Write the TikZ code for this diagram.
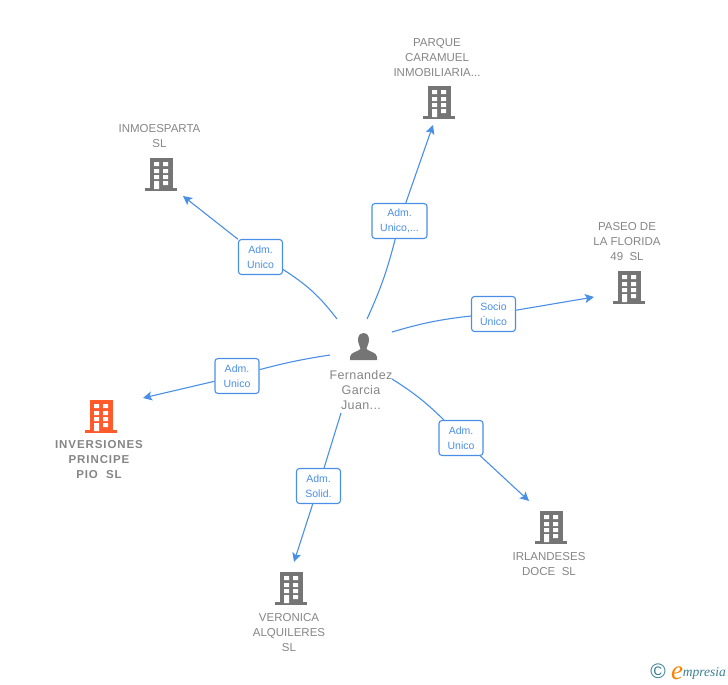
\documentclass[tikz,border=0pt]{standalone}
\usepackage{fontspec}
\setmainfont{Liberation Sans}
\newfontfamily\logofont{Liberation Serif}
\usetikzlibrary{arrows.meta, positioning}
\definecolor{linkblue}{HTML}{4A8FE6}
\definecolor{txtgray}{HTML}{858585}
\definecolor{icongray}{HTML}{757575}
\definecolor{mainorange}{HTML}{FF5A2B}
\definecolor{logoteal}{HTML}{3A7F94}
\tikzset{
  pics/building/.style={code={
    \fill[#1] (-11.5,-32) rectangle (11.5,-1);
    \fill[#1] (-16,-2) rectangle (16,1);
    \fill[white] (-7,-28) rectangle (-2,-24) (2,-28) rectangle (7,-24)
                 (-7,-21) rectangle (-2,-17) (2,-21) rectangle (7,-17)
                 (-7,-15) rectangle (-2,-11) (2,-15) rectangle (7,-11)
                 (-7,-9) rectangle (-2,-1) (2,-9) rectangle (7,-5);
  }},
  pics/person/.style={code={
    \fill[icongray] (0,-27) .. controls (-6,-27) and (-6,-20) .. (-5,-17)
      .. controls (-4.5,-14) and (-3,-13) .. (-3,-11)
      .. controls (-6,-8) and (-13,-8) .. (-13.5,-3) -- (-13.5,0) -- (13.5,0) -- (13.5,-3)
      .. controls (13,-8) and (6,-8) .. (3,-11)
      .. controls (3,-13) and (4.5,-14) .. (5,-17)
      .. controls (6,-20) and (6,-27) .. (0,-27) -- cycle;
  }}
}
\begin{document}
\begin{tikzpicture}[x=1pt,y=-1pt,
    cname/.style={text=txtgray,align=center,font=\fontsize{11.5}{15}\selectfont,inner sep=0pt},
    lab/.style={draw=linkblue,line width=1.1pt,rounded corners=3pt,fill=white,text=linkblue,
      align=center,font=\fontsize{10.5}{15}\selectfont,minimum width=44pt,minimum height=35pt,inner sep=0pt},
    link/.style={color=linkblue,line width=1.1pt},
    tip/.style={-{Stealth[length=9pt,width=9pt,inset=2pt,color=linkblue,fill=linkblue]}}]
  \useasboundingbox (0,0) rectangle (728,685);
  % companies
  \pic at (439,118) {building=icongray};
  \pic at (161,190) {building=icongray};
  \pic at (629,303) {building=icongray};
  \pic at (101,432) {building=mainorange};
  \pic at (551,543) {building=icongray};
  \pic at (291,604) {building=icongray};
  \pic at (363.5,360) {person};
  \node[cname] (n_1) at (437,57.5) {PARQUE\\CARAMUEL\\INMOBILIARIA...};
  \node[cname] (n_2) at (159.5,136) {INMOESPARTA\\SL};
  \node[cname] (n_3) at (627,241.5) {PASEO DE\\LA FLORIDA\\49\ \ SL};
  \node[cname,font=\fontsize{11.5}{15}\selectfont\bfseries\addfontfeature{LetterSpace=8}] (n_4) at (99,460) {INVERSIONES\\PRINCIPE\\PIO\ \ SL};
  \node[cname] (n_5) at (549,564) {IRLANDESES\\DOCE\ \ SL};
  \node[cname] (n_6) at (289,632.5) {VERONICA\\ALQUILERES\\SL};
  \node[cname,font=\fontsize{12.5}{15}\selectfont\addfontfeature{LetterSpace=3}] (n_0) at (361,390) {Fernandez\\Garcia\\Juan...};
  % free ends
  \coordinate (a_1) at (367,319);
  \coordinate (a_2) at (337,319);
  \coordinate (a_3) at (392,332);
  \coordinate (a_4) at (330,355);
  \coordinate (a_5) at (392,379);
  \coordinate (a_6) at (341,413);
  \coordinate (e_1) at (433,125);
  \coordinate (e_2) at (183,196);
  \coordinate (e_3) at (594,297);
  \coordinate (e_4) at (143,398);
  \coordinate (e_5) at (529,501);
  \coordinate (e_6) at (294,562);
  % labels on the links
  \node[lab,minimum width=55pt] (l_1) at (399.5,221) {Adm.\\Unico,...};
  \node[lab] (l_2) at (260.5,257) {Adm.\\Unico};
  \node[lab] (l_3) at (493.5,314) {Socio\\Único};
  \node[lab] (l_4) at (237,376) {Adm.\\Unico};
  \node[lab] (l_5) at (461,438) {Adm.\\Unico};
  \node[lab] (l_6) at (318.5,486) {Adm.\\Solid.};
  \path[link]
    (a_1) edge [bend right=5] (l_1)
    (a_2) edge [bend right=10] (l_2)
    (a_3) edge [bend left=5] (l_3)
    (a_4) edge [bend right=3] (l_4)
    (a_5) edge [bend left=6] (l_5)
    (a_6) edge (l_6);
  \path[link,tip]
    (l_1) edge (e_1)
    (l_2) edge (e_2)
    (l_3) edge (e_3)
    (l_4) edge (e_4)
    (l_5) edge (e_5)
    (l_6) edge (e_6);
  % logo
  \node[text=logoteal,font=\fontsize{21}{21}\selectfont,inner sep=0pt] (c_1) at (658,671.5) {©};
  \node[text=orange,font=\logofont\itshape\fontsize{27}{27}\selectfont,inner sep=0pt] (c_2) at (677,673) {e};
  \node[text=logoteal,font=\logofont\itshape\fontsize{13.5}{13.5}\selectfont,inner sep=0pt,right=-0.5pt of c_2] (c_3) {mpresia};
\end{tikzpicture}
\end{document}
